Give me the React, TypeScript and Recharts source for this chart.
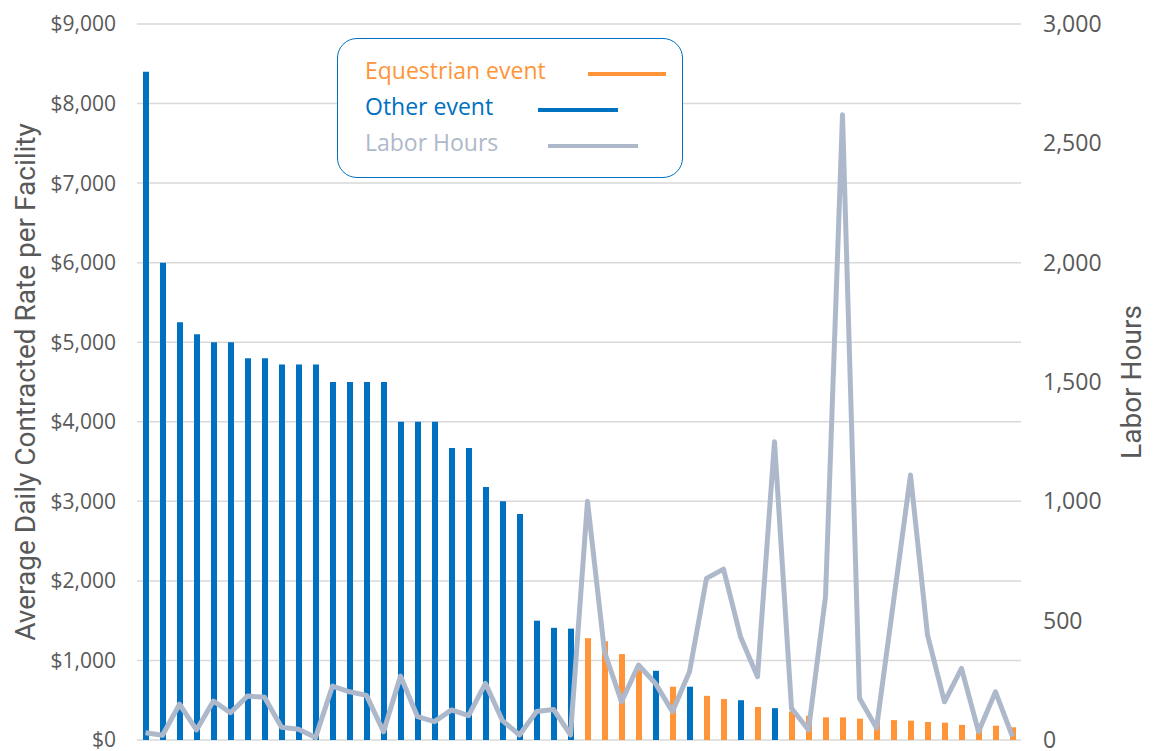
import { Bar, CartesianGrid, ComposedChart, Line, XAxis, YAxis } from "recharts";

// one entry per facility, sorted by contracted rate (as in the source chart)
const eventTypes = [
	"O", "O", "O", "O", "O", "O", "O", "O", "O", "O", "O", "O", "O",
	"O", "O", "O", "O", "O", "O", "O", "O", "O", "O", "O", "O", "O",
	"E", "E", "E", "E", "O", "E", "O", "E", "E", "O", "E", "O", "E",
	"E", "E", "E", "E", "E", "E", "E", "E", "E", "E", "E", "E", "E",
];

const dailyRates = [
	8400, 6000, 5250, 5100, 5000, 5000, 4800, 4800, 4720, 4720, 4720, 4500, 4500,
	4500, 4500, 4000, 4000, 4000, 3670, 3670, 3180, 3000, 2840, 1500, 1410, 1400,
	1280, 1240, 1080, 880, 870, 670, 670, 555, 515, 500, 415, 400, 360,
	305, 285, 285, 268, 250, 250, 243, 226, 218, 190, 180, 180, 160,
];

const laborHours = [
	30, 20, 150, 42, 163, 114, 184, 179, 53, 45, 10, 226, 202,
	187, 35, 268, 98, 77, 126, 102, 237, 81, 21, 119, 128, 21,
	1000, 370, 160, 314, 237, 119, 286, 677, 716, 433, 265, 1250, 133,
	42, 600, 2620, 175, 50, 580, 1110, 440, 160, 300, 35, 202, 14,
];

const rateTicks = [0, 1000, 2000, 3000, 4000, 5000, 6000, 7000, 8000, 9000];
const hourTicks = [0, 500, 1000, 1500, 2000, 2500, 3000];

const ORANGE = "#FF9538";
const BLUE = "#0070C0";
const GREY = "#ADB9CA";
const TICK = "#595959";

const data = dailyRates.map((rate, i) => ({
	facility: `Facility ${i + 1}`,
	equestrian: eventTypes[i] === "E" ? rate : 0,
	other: eventTypes[i] === "O" ? rate : 0,
	hours: laborHours[i],
}));

const legendItems = [
	{ label: "Equestrian event", color: ORANGE, lineLeft: 250, lineWidth: 78, top: 17 },
	{ label: "Other event", color: BLUE, lineLeft: 200, lineWidth: 80, top: 53 },
	{ label: "Labor Hours", color: GREY, lineLeft: 210, lineWidth: 90, top: 89 },
];

function LegendBox() {
	return (
		<div
			style={{
				position: "absolute",
				left: 337,
				top: 38,
				width: 346,
				height: 140,
				boxSizing: "border-box",
				border: `1.5px solid ${BLUE}`,
				borderRadius: 20,
				background: "#fff",
				fontFamily: "'Open Sans', sans-serif",
				fontSize: 23,
			}}
		>
			{legendItems.map((item) => (
				<div key={item.label}>
					<span
						style={{
							position: "absolute",
							left: 27,
							top: item.top - 1,
							color: item.color,
							lineHeight: "30px",
							whiteSpace: "nowrap",
						}}
					>
						{item.label}
					</span>
					<span
						style={{
							position: "absolute",
							left: item.lineLeft,
							top: item.top + 16,
							width: item.lineWidth,
							height: 4,
							background: item.color,
						}}
					/>
				</div>
			))}
		</div>
	);
}

const fmtRate = (v: number) => `$${v.toLocaleString("en-US")}`;
const fmtHours = (v: number) => v.toLocaleString("en-US");

export default function App() {
	return (
		<div style={{ position: "absolute", left: 0, top: 0, width: 1154, height: 751, background: "#fff" }}>
			<ComposedChart
				width={1154}
				height={751}
				data={data}
				margin={{ top: 24, right: 0, bottom: 11, left: 0 }}
				barCategoryGap={0}
			>
				<CartesianGrid vertical={false} yAxisId='left' stroke='#D9D9D9' strokeWidth={1.5} />
				<XAxis dataKey='facility' hide />
				<YAxis
					yAxisId='left'
					width={137}
					domain={[0, 9000]}
					ticks={rateTicks}
					interval={0}
					tickFormatter={fmtRate}
					axisLine={false}
					tickLine={false}
					tickSize={0}
					tickMargin={21}
					tick={{ fill: TICK, fontSize: 21, fontFamily: "'Open Sans', sans-serif" }}
					label={{
						content: () => (
							<text
								x={25}
								y={382}
								transform='rotate(-90 25 382)'
								textAnchor='middle'
								dominantBaseline='central'
								fill={TICK}
								fontSize={28}
								fontFamily='Roboto, sans-serif'
							>
								Average Daily Contracted Rate per Facility
							</text>
						),
					}}
				/>
				<YAxis
					yAxisId='right'
					orientation='right'
					width={133}
					domain={[0, 3000]}
					ticks={hourTicks}
					interval={0}
					tickFormatter={fmtHours}
					axisLine={false}
					tickLine={false}
					tickSize={0}
					tickMargin={22}
					tick={{ fill: TICK, fontSize: 23, fontFamily: "'Open Sans', sans-serif", textAnchor: "start" }}
					label={{
						content: () => (
							<text
								x={1131}
								y={382}
								transform='rotate(-90 1131 382)'
								textAnchor='middle'
								dominantBaseline='central'
								fill={TICK}
								fontSize={28}
								fontFamily='Roboto, sans-serif'
							>
								Labor Hours
							</text>
						),
					}}
				/>
				<Bar yAxisId='left' dataKey='other' stackId='rate' fill={BLUE} barSize={6} isAnimationActive={false} />
				<Bar yAxisId='left' dataKey='equestrian' stackId='rate' fill={ORANGE} barSize={6} isAnimationActive={false} />
				<Line
					yAxisId='right'
					type='linear'
					dataKey='hours'
					stroke={GREY}
					strokeWidth={5}
					strokeLinejoin='round'
					dot={false}
					activeDot={false}
					isAnimationActive={false}
				/>
			</ComposedChart>
			<LegendBox />
		</div>
	);
}
